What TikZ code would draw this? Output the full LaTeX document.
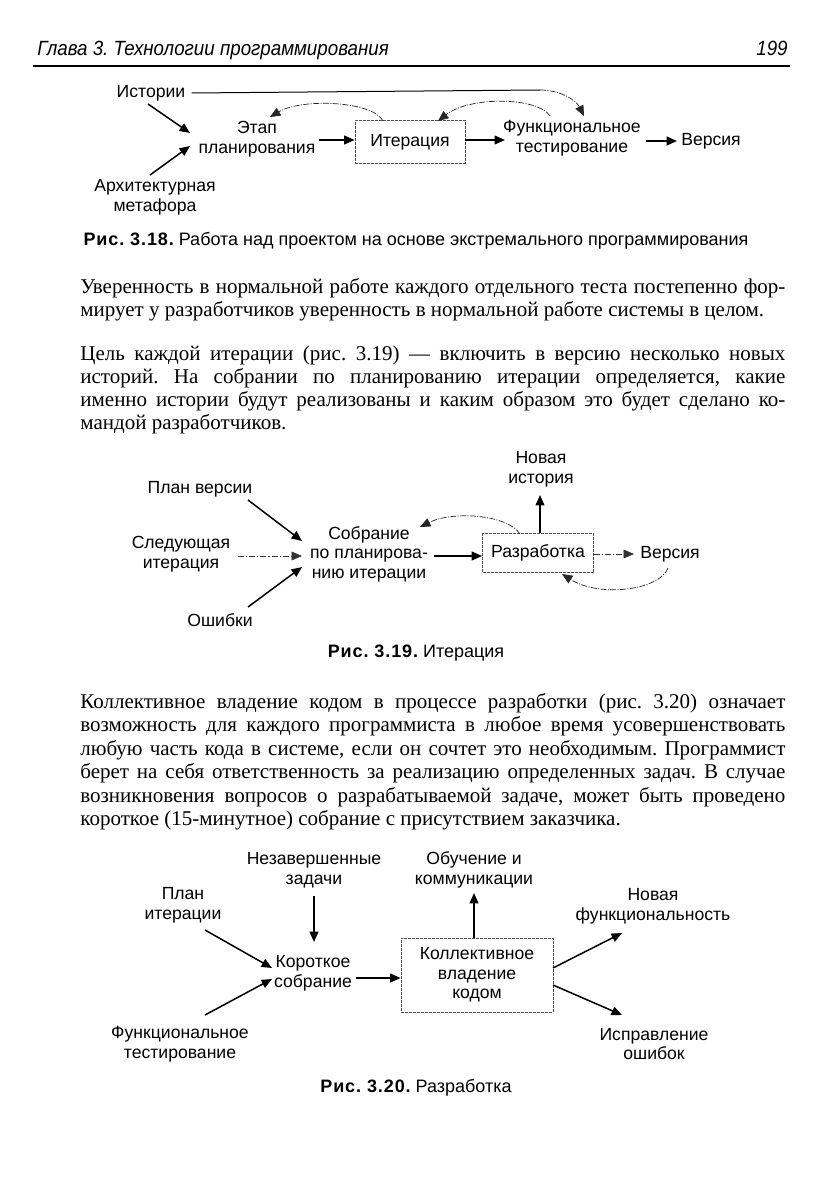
\documentclass[tikz,border=0pt]{standalone}
\usepackage{fontspec}
\setmainfont{Liberation Serif}
\newfontfamily\dsans{Liberation Sans}
\usetikzlibrary{arrows.meta}
\newcommand{\jl}[1]{\makebox[352.5pt][s]{#1}}
\frenchspacing
\begin{document}
\begin{tikzpicture}[x=0.5pt,y=-0.5pt,
  lab/.style={font=\dsans\fontsize{8.8pt}{9.8pt}\selectfont, align=center, inner sep=0pt},
  arr/.style={line width=0.75pt, -{Triangle[length=5.2pt,width=4.4pt]}},
  thinarr/.style={line width=0.35pt, black!80, dash pattern=on 3pt off 1pt on 0.6pt off 1pt, -{Triangle[length=5.2pt,width=4.4pt]}},
  curvearr/.style={line width=0.35pt, black!85, dash pattern=on 3pt off 0.7pt on 0.5pt off 0.7pt, -{Triangle[length=5.2pt,width=4.4pt]}},
  dbox/.style={draw=black!70, line width=0.4pt, dash pattern=on 1.5pt off 0.5pt, inner sep=0pt, font=\dsans\fontsize{8.8pt}{9.8pt}\selectfont, align=center},
  body/.style={font=\fontsize{10.5pt}{11.7pt}\selectfont, anchor=base west, inner sep=0pt},
  figcap/.style={font=\dsans\fontsize{9pt}{10pt}\selectfont, inner sep=0pt, anchor=base}]
\useasboundingbox (0,0) rectangle (839,1188);
\fill[white] (0,0) rectangle (839,1188);

% header
\node[anchor=base west, inner sep=0pt, font=\dsans\itshape\fontsize{10.3pt}{11pt}\selectfont] (hdr) at (37,56) {\scalebox{0.91}[1]{Глава 3. Технологии программирования}};
\node[anchor=base east, inner sep=0pt, font=\dsans\itshape\fontsize{10.3pt}{11pt}\selectfont] (pg) at (788,56) {\scalebox{0.91}[1]{199}};
\draw[line width=0.8pt] (33,66) -- (790,66);

% ---------- Fig 3.18
\node[lab] (ist) at (151,93) {Истории};
\node[lab] (etap) at (257,139) {Этап\\планирования};
\node[lab] (arch) at (155,197) {Архитектурная\\метафора};
\node[dbox, minimum width=55pt, minimum height=21.5pt] (iter) at (410,142) {Итерация};
\node[lab] (func) at (572,138) {Функциональное\\тестирование};
\node[lab] (vers1) at (711,141) {Версия};

\coordinate (i1) at (148,104);
\coordinate (i2) at (190,133);
\coordinate (a1) at (150,175);
\coordinate (a2) at (190,146);
\draw[arr] (i1) -- (i2);
\draw[arr] (a1) -- (a2);
\coordinate (e1) at (319,140);
\draw[arr] (e1) -- (iter.west |- e1);
\coordinate (f1) at (505,140);
\draw[arr] (iter.east |- f1) -- (f1);
\coordinate (v1) at (646,141);
\coordinate (v2) at (677,141);
\draw[arr] (v1) -- (v2);
\coordinate (h1) at (540,90);
\coordinate (h2) at (584,116);
\draw[line width=0.5pt] ([xshift=3pt]ist.east) -- (h1);
\draw[curvearr] (h1) .. controls (560,90) and (576,100) .. (h2);
\coordinate (ca1) at (383,121);
\coordinate (ca2) at (270,117);
\draw[curvearr] (ca1) .. controls (373,101) and (302,98) .. (ca2);
\coordinate (cb1) at (550,116);
\coordinate (cb2) at (438,121);
\draw[curvearr] (cb1) .. controls (538,97) and (470,96) .. (cb2);

\node[figcap] (cap18) at (416,245) {{\bfseries\addfontfeatures{LetterSpace=5}Рис. 3.18.} Работа над проектом на основе экстремального программирования};

% ---------- paragraphs 1,2
\node[body] (p1a) at (80,293) {\jl{Уверенность в нормальной работе каждого отдельного теста постепенно фор-}};
\node[body] (p1b) at (80,316) {мирует у разработчиков уверенность в нормальной работе системы в целом.};
\node[body] (p2a) at (80,360) {\jl{Цель каждой итерации (рис. 3.19) — включить в версию несколько новых}};
\node[body] (p2b) at (80,383) {\jl{историй. На собрании по планированию итерации определяется, какие}};
\node[body] (p2c) at (80,406) {\jl{именно истории будут реализованы и каким образом это будет сделано ко-}};
\node[body] (p2d) at (80,429) {мандой разработчиков.};

% ---------- Fig 3.19
\node[lab] (plan) at (200,489) {План версии};
\node[lab] (next) at (181,554) {Следующая\\итерация};
\node[lab] (err) at (220,620) {Ошибки};
\node[lab] (meet) at (369,554) {Собрание\\по планирова-\\нию итерации};
\node[dbox, minimum width=55.5pt, minimum height=19.5pt] (dev) at (538,553) {Разработка};
\node[lab] (newh) at (541,469) {Новая\\история};
\node[lab] (vers2) at (670,554) {Версия};

\coordinate (p1) at (248,500);
\coordinate (p2) at (302,541);
\draw[arr] (p1) -- (p2);
\coordinate (n1) at (238,556);
\coordinate (n2) at (302,556);
\draw[thinarr] (n1) -- (n2);
\coordinate (o1) at (248,607);
\coordinate (o2) at (302,567);
\draw[arr] (o1) -- (o2);
\coordinate (m1) at (434,556);
\draw[arr] (m1) -- (dev.west |- m1);
\coordinate (u2) at (540,495);
\draw[arr] (dev.north -| u2) -- (u2);
\coordinate (r2) at (634,554);
\draw[thinarr] (dev.east |- r2) -- (r2);
\coordinate (k1) at (520,534);
\coordinate (k2) at (420,527);
\draw[curvearr] (k1) .. controls (507,514) and (452,511) .. (k2);
\coordinate (l1) at (668,568);
\coordinate (l2) at (562,574);
\draw[curvearr] (l1) .. controls (660,590) and (600,598) .. (l2);

\node[figcap] (cap19) at (416,657) {{\bfseries\addfontfeatures{LetterSpace=5}Рис. 3.19.} Итерация};

% ---------- paragraph 3
\node[body] (p3a) at (80,708) {\jl{Коллективное владение кодом в процессе разработки (рис. 3.20) означает}};
\node[body] (p3b) at (80,731) {\jl{возможность для каждого программиста в любое время усовершенствовать}};
\node[body] (p3c) at (80,755) {\jl{любую часть кода в системе, если он сочтет это необходимым. Программист}};
\node[body] (p3d) at (80,778) {\jl{берет на себя ответственность за реализацию определенных задач. В случае}};
\node[body] (p3e) at (80,802) {\jl{возникновения вопросов о разрабатываемой задаче, может быть проведено}};
\node[body] (p3f) at (80,825) {короткое (15-минутное) собрание с присутствием заказчика.};

% ---------- Fig 3.20
\node[lab] (unf) at (314,870) {Незавершенные\\задачи};
\node[lab] (learn) at (474,870) {Обучение и\\коммуникации};
\node[lab] (plan2) at (183,905) {План\\итерации};
\node[lab] (newf) at (653,906) {Новая\\функциональность};
\node[lab] (short) at (313,973) {Короткое\\собрание};
\node[dbox, minimum width=76pt, minimum height=37pt] (coll) at (477,975) {Коллективное\\владение\\кодом};
\node[lab] (ft) at (180,1044) {Функциональное\\тестирование};
\node[lab] (fix) at (654,1044) {Исправление\\ошибок};

\coordinate (z1) at (314,896);
\coordinate (z2) at (314,942);
\draw[arr] (z1) -- (z2);
\coordinate (q1) at (205,930);
\coordinate (q2) at (272,968);
\draw[arr] (q1) -- (q2);
\coordinate (t1) at (205,1015);
\coordinate (t2) at (272,979);
\draw[arr] (t1) -- (t2);
\coordinate (s1) at (356,978);
\draw[arr] (s1) -- (coll.west |- s1);
\coordinate (w2) at (474,893);
\draw[arr] (coll.north -| w2) -- (w2);
\coordinate (g1) at (553,968);
\coordinate (g2) at (622,933);
\draw[arr] (g1) -- (g2);
\coordinate (b1) at (553,985);
\coordinate (b2) at (622,1015);
\draw[arr] (b1) -- (b2);

\node[figcap] (cap20) at (416,1092) {{\bfseries\addfontfeatures{LetterSpace=5}Рис. 3.20.} Разработка};
\end{tikzpicture}
\end{document}
